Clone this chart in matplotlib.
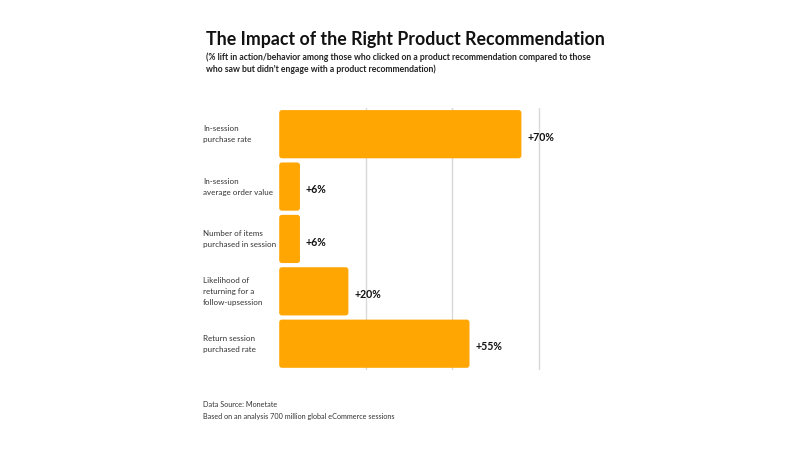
import matplotlib.pyplot as plt
from matplotlib.patches import FancyBboxPatch

categories = ["In-session\npurchase rate",
              "In-session\naverage order value",
              "Number of items\npurchased in session",
              "Likelihood of\nreturning for a\nfollow-upsession",
              "Return session\npurchased rate"]
lifts = [70, 6, 6, 20, 55]
value_labels = ["+70%", "+6%", "+6%", "+20%", "+55%"]
gridlines = [25, 50, 75]

plt.rcParams['font.family'] = ['Lato', 'DejaVu Sans']
orange = "#FFA602"

fig = plt.figure(figsize=(8, 4.5), dpi=100)
ax = fig.add_axes([0.349, 0.178, 0.346, 0.582])

y = list(range(len(categories)))
bars = ax.barh(y, lifts, height=0.92, color=orange, zorder=2)
# swap the plain bars for slightly rounded ones
for b in bars:
    b.set_visible(False)
    ax.add_patch(FancyBboxPatch((b.get_x(), b.get_y()), b.get_width(), b.get_height(),
                                boxstyle="round,pad=0,rounding_size=0.8",
                                mutation_aspect=0.066, fc=orange, ec="none", zorder=2))

for g in gridlines:
    ax.axvline(g, color="#d9d9d9", lw=1, zorder=1)

for yi, v, lab in zip(y, lifts, value_labels):
    ax.text(v + 1.7, yi + 0.06, lab, va="center", ha="left", fontsize=7.6,
            fontweight="bold", color="#111111")

ax.set_xlim(0, 80)
ax.set_ylim(len(categories) - 0.5, -0.5)
ax.set_xticks([])
ax.set_yticks([])
for s in ax.spines.values():
    s.set_visible(False)

# category labels sit left of the bars, left aligned
for yi, cat in zip(y, categories):
    ax.text(-22, yi, cat, va="center", ha="left",
            fontsize=5.8, color="#333333", linespacing=1.65)

fig.text(0.257, 0.913, "The Impact of the Right Product Recommendation",
         fontsize=12.8, fontweight="bold", color="#111111", va="center")
fig.text(0.257, 0.86, "(% lift in action/behavior among those who clicked on a product recommendation compared to those\nwho saw but didn't engage with a product recommendation)",
         fontsize=6.2, fontweight="bold", color="#222222", va="center", linespacing=1.35)
fig.text(0.254, 0.088, "Data Source: Monetate\nBased on an analysis 700 million global eCommerce sessions",
         fontsize=5.2, color="#333333", va="center", linespacing=1.7)

fig.savefig("out.png", dpi=100, facecolor="white")
